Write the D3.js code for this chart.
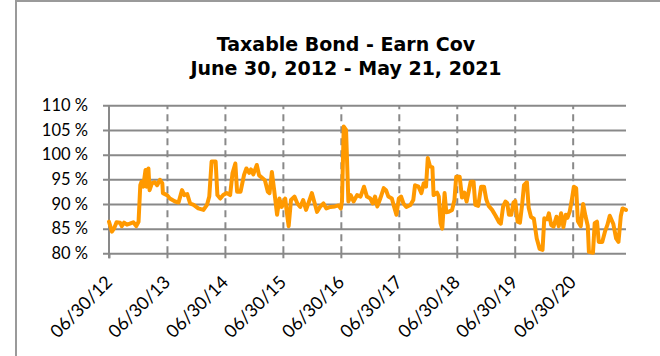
<!DOCTYPE html>
<html><head><meta charset="utf-8">
<script src="https://cdn.jsdelivr.net/npm/d3@7"></script>
<style>body{margin:0;background:#fff;} svg{display:block;}</style>
</head><body><svg id="chart" width="660" height="356"></svg>
<script>
const titleLines = ["Taxable Bond - Earn Cov", "June 30, 2012 - May 21, 2021"];
const yTickValues = [80, 85, 90, 95, 100, 105, 110];
const yTickLabels = ["80 %", "85 %", "90 %", "95 %", "100 %", "105 %", "110 %"];
const xTickValues = [2012.5, 2013.5, 2014.5, 2015.5, 2016.5, 2017.5, 2018.5, 2019.5, 2020.5];
const xTickLabels = ["06/30/12", "06/30/13", "06/30/14", "06/30/15", "06/30/16", "06/30/17", "06/30/18", "06/30/19", "06/30/20"];
const xDomain = [2012.5, 2021.42];
// dates as decimal years
const dates = [
2012.50,2012.55,2012.59,2012.63,2012.69,2012.72,2012.76,2012.81,2012.86,2012.92,2012.97,2013.01,
2013.04,2013.06,2013.09,2013.13,2013.15,2013.18,2013.20,2013.24,2013.29,2013.33,2013.38,2013.42,2013.43,
2013.50,2013.55,2013.64,2013.70,2013.76,2013.80,2013.85,2013.90,2013.96,2014.04,2014.13,2014.19,2014.23,
2014.27,2014.34,2014.37,2014.42,2014.47,2014.53,2014.59,2014.63,2014.68,2014.71,2014.77,2014.83,2014.87,
2014.92,2014.95,2014.99,2015.05,2015.09,2015.14,2015.19,2015.24,2015.27,2015.31,2015.35,2015.40,2015.44,
2015.48,2015.54,2015.57,2015.60,2015.64,2015.70,2015.75,2015.80,2015.85,2015.90,2015.96,2016.00,2016.04,
2016.09,2016.14,2016.20,2016.25,2016.32,2016.40,2016.46,2016.50,2016.52,2016.55,2016.59,2016.63,2016.67,
2016.72,2016.78,2016.84,2016.90,2016.95,2017.01,2017.05,2017.09,2017.13,2017.18,2017.24,2017.28,2017.32,
2017.38,2017.42,2017.46,2017.50,2017.54,2017.58,2017.63,2017.70,2017.75,2017.78,2017.84,2017.89,2017.93,
2017.97,2018.00,2018.04,2018.08,2018.10,2018.16,2018.19,2018.22,2018.25,2018.29,2018.32,2018.36,2018.42,
2018.46,2018.49,2018.55,2018.59,2018.63,2018.67,2018.74,2018.79,2018.82,2018.87,2018.92,2018.97,2019.01,
2019.05,2019.11,2019.17,2019.23,2019.26,2019.30,2019.34,2019.37,2019.40,2019.44,2019.48,2019.51,2019.55,
2019.59,2019.63,2019.66,2019.71,2019.74,2019.78,2019.83,2019.88,2019.93,2019.98,2020.01,2020.06,2020.09,
2020.13,2020.17,2020.22,2020.26,2020.30,2020.34,2020.38,2020.41,2020.45,2020.49,2020.52,2020.56,2020.59,
2020.64,2020.68,2020.72,2020.76,2020.78,2020.85,2020.88,2020.92,2020.95,2021.01,2021.06,2021.10,2021.14,
2021.20,2021.25,2021.29,2021.33,2021.36,2021.42
];
// earnings coverage, percent
const coverage = [
86.4,84.4,85.1,86.3,86.2,85.5,86.2,85.8,86.0,86.3,85.5,86.4,
93.8,94.5,93.5,96.9,93.5,97.2,92.8,94.2,94.4,93.8,94.9,94.2,92.2,
91.8,91.1,90.5,90.3,92.8,91.8,92.0,90.1,89.8,89.1,88.8,89.8,91.5,
98.6,98.6,91.8,91.1,91.8,92.2,91.8,96.2,98.2,92.5,92.5,95.9,97.2,
96.3,97.0,96.0,97.9,95.8,95.3,94.8,92.5,92.2,96.5,92.8,87.8,91.1,
89.4,91.1,88.1,85.5,90.8,91.5,90.1,89.4,90.8,88.8,90.8,92.2,90.5,
88.4,89.4,90.1,89.1,89.4,89.5,89.7,89.1,90.5,105.7,105.0,90.5,91.8,
90.5,91.8,91.5,93.5,91.5,91.1,90.1,91.5,89.5,91.1,93.2,92.8,91.5,
91.1,89.4,87.8,91.1,91.5,90.1,89.4,89.8,90.8,93.8,93.5,92.2,94.2,
93.5,99.3,97.6,97.4,91.8,92.3,91.5,86.1,85.0,92.2,88.3,88.4,88.8,
90.8,95.5,95.5,91.3,92.3,90.5,94.5,94.5,89.8,89.6,93.5,93.5,90.9,
89.6,88.8,87.6,86.3,86.0,89.5,90.5,90.2,87.8,87.8,90.3,90.6,86.4,
86.2,90.1,93.8,94.4,89.3,87.4,87.0,83.0,80.9,80.7,87.1,86.9,88.1,
85.7,85.4,87.4,85.5,88.1,85.3,87.8,87.2,88.5,91.2,93.5,93.2,86.5,
85.5,90.0,87.6,85.6,80.3,80.1,86.1,86.4,82.3,82.3,84.5,85.8,87.6,
86.0,83.0,82.3,87.5,89.1,88.8
];

const svg = d3.select("#chart");
const W = 660, H = 356;
const plot = {left: 109, right: 626, top: 105.3, bottom: 253.3};
const gridColor = "#898989";
const labelFont = "Lato, 'Liberation Sans', sans-serif";

svg.append("rect").attr("width", W).attr("height", H).attr("fill", "#fff");
// outer frame
svg.append("line").attr("x1", 15).attr("x2", W).attr("y1", 1).attr("y2", 1)
  .attr("stroke", "#9a9a9a").attr("stroke-width", 2);
svg.append("line").attr("x1", 16).attr("x2", 16).attr("y1", 0).attr("y2", H)
  .attr("stroke", "#9a9a9a").attr("stroke-width", 2);

// title
svg.append("g").selectAll("text").data(titleLines).join("text")
  .attr("x", 346).attr("y", (d, i) => 51 + i * 24)
  .attr("text-anchor", "middle")
  .attr("font-family", "'DejaVu Sans', Verdana, sans-serif")
  .attr("font-weight", "bold").attr("font-size", 19).attr("fill", "#000")
  .text(d => d);

const x = d3.scaleLinear().domain(xDomain).range([plot.left, plot.right]);
const y = d3.scaleLinear().domain([80, 110]).range([plot.bottom, plot.top]);

// horizontal gridlines + y labels
const yAxis = d3.axisLeft(y).tickValues(yTickValues)
  .tickFormat((d, i) => yTickLabels[i])
  .tickSize(-(plot.right - plot.left)).tickSizeOuter(0).tickPadding(21);
const gy = svg.append("g").attr("transform", `translate(${plot.left},0)`).call(yAxis);
gy.select(".domain").remove();
gy.selectAll(".tick line").attr("x1", -6).attr("stroke", gridColor).attr("stroke-width", 2);
gy.selectAll(".tick text").attr("font-family", labelFont).attr("font-size", 16.5).attr("fill", "#000");

// vertical dashed gridlines
const xGrid = d3.axisBottom(x).tickValues(xTickValues.slice(1))
  .tickSize(-(plot.bottom - plot.top)).tickFormat("");
const gxg = svg.append("g").attr("transform", `translate(0,${plot.bottom})`).call(xGrid);
gxg.select(".domain").remove();
gxg.selectAll(".tick line").attr("stroke", gridColor).attr("stroke-width", 2)
  .attr("stroke-dasharray", "7,5");

// x axis ticks + labels
const xAxis = d3.axisBottom(x).tickValues(xTickValues)
  .tickFormat((d, i) => xTickLabels[i]).tickSize(5).tickSizeOuter(0);
const gx = svg.append("g").attr("transform", `translate(0,${plot.bottom})`).call(xAxis);
gx.select(".domain").remove();
gx.selectAll(".tick line").attr("stroke", gridColor).attr("stroke-width", 2);
gx.selectAll(".tick text")
  .attr("font-family", labelFont).attr("font-size", 18).attr("fill", "#000")
  .attr("text-anchor", "end").attr("dy", null).attr("y", 0)
  .attr("transform", "translate(4,30) rotate(-45)");

// y axis line
svg.append("line").attr("x1", plot.left).attr("x2", plot.left)
  .attr("y1", plot.top).attr("y2", plot.bottom + 5)
  .attr("stroke", gridColor).attr("stroke-width", 2);

// series line
const pts = dates.map((d, i) => [d, coverage[i]]);
svg.append("path").datum(pts)
  .attr("fill", "none").attr("stroke", "#FF9900").attr("stroke-width", 4)
  .attr("stroke-linejoin", "round").attr("stroke-linecap", "round")
  .attr("d", d3.line().x(d => x(d[0])).y(d => y(d[1])));
</script></body></html>
